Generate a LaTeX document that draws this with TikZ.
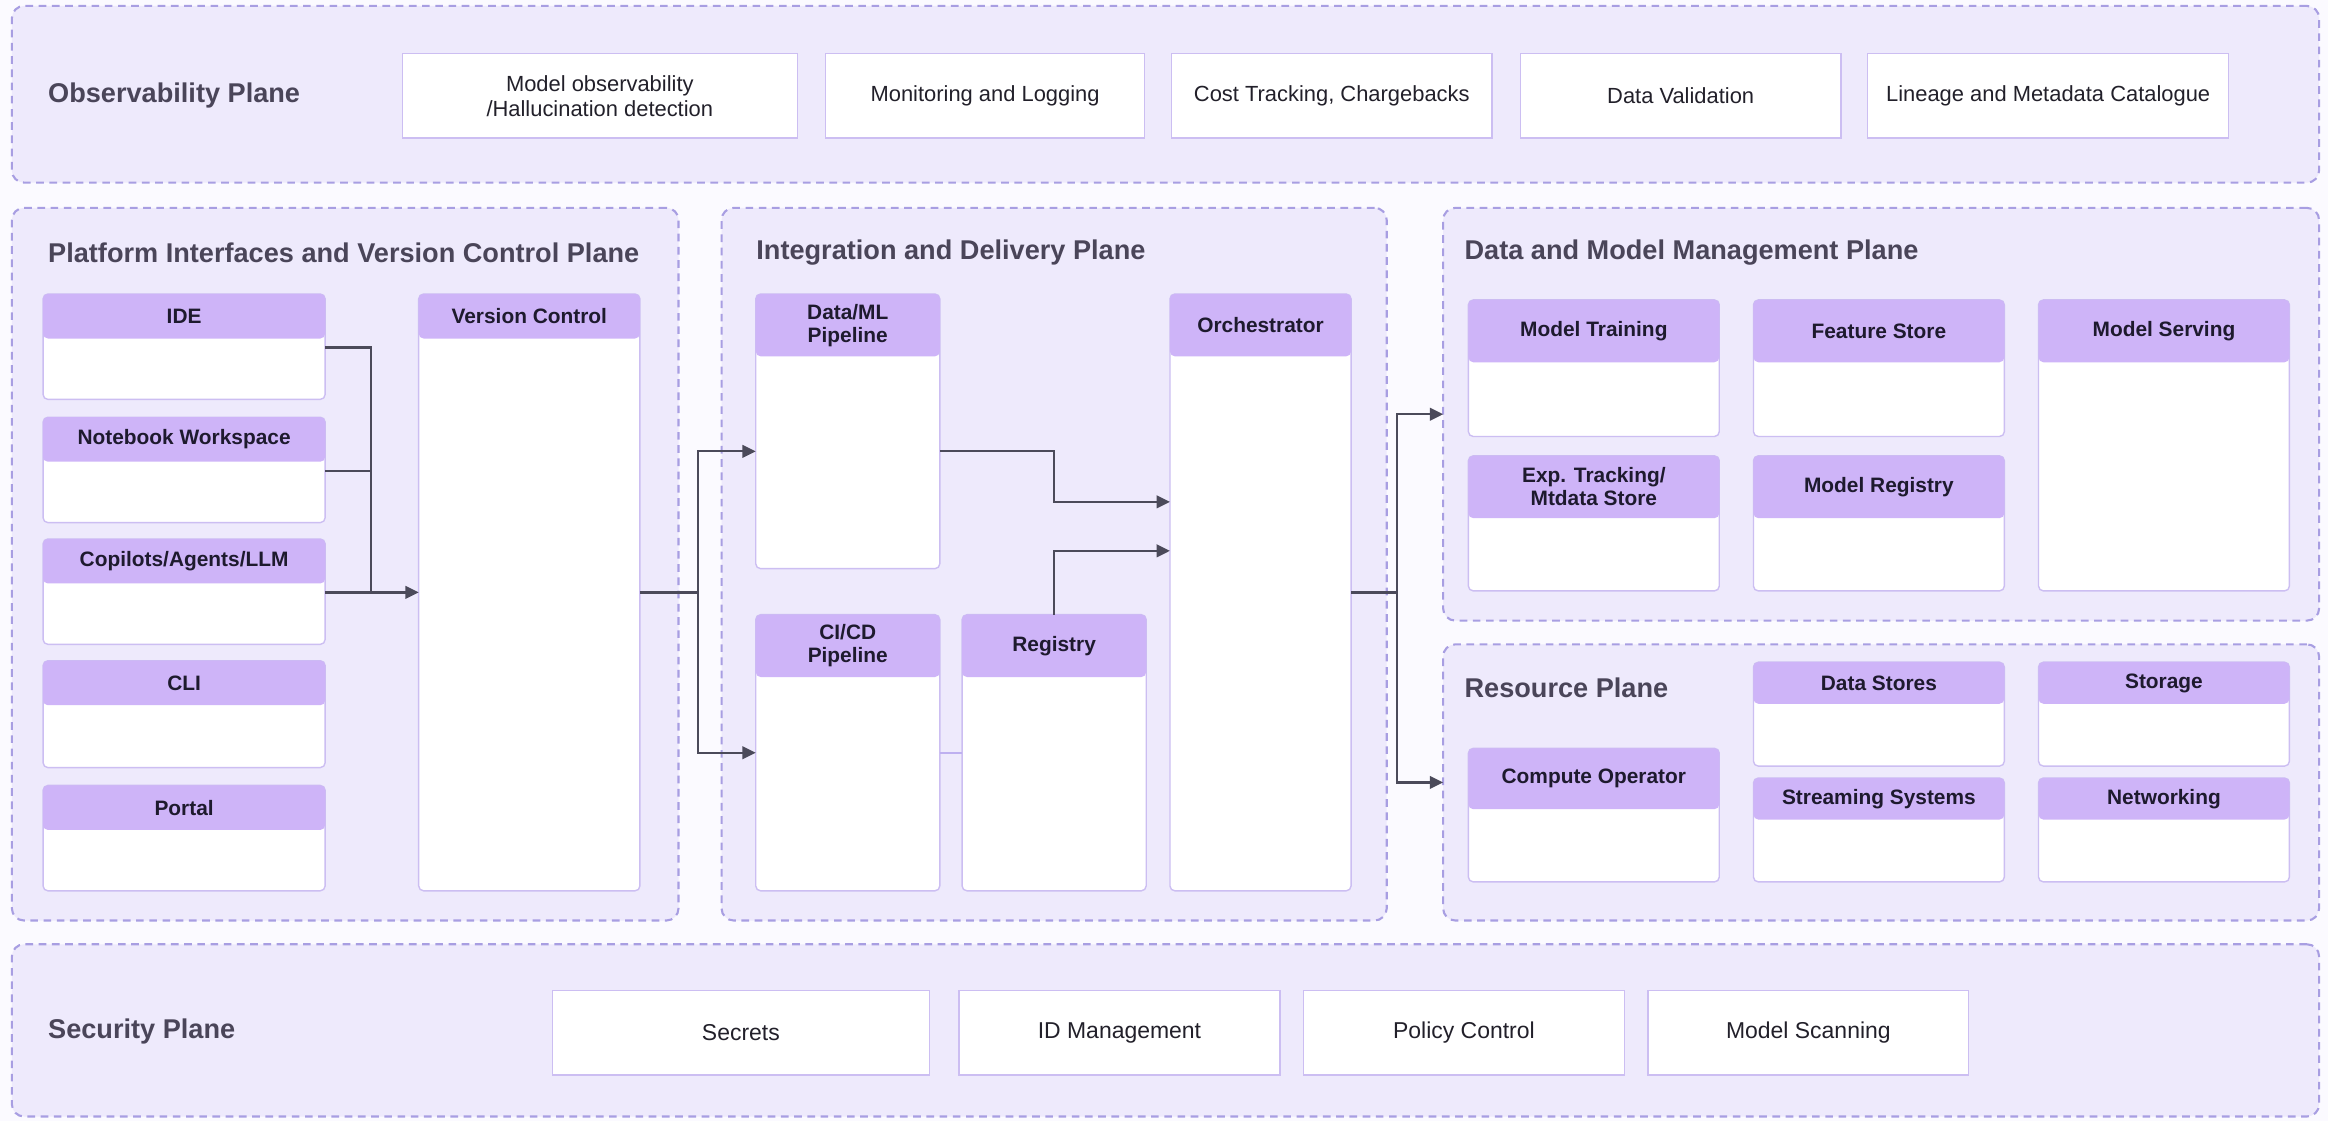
\documentclass[tikz,border=0pt]{standalone}
\usepackage{fontspec}
\setmainfont{Liberation Sans}
\usetikzlibrary{fit,calc,arrows.meta}
\definecolor{pagebg}{RGB}{251,250,255}
\definecolor{planebg}{RGB}{238,234,252}
\definecolor{dashc}{RGB}{168,158,226}
\definecolor{cardb}{RGB}{204,190,242}
\definecolor{headc}{RGB}{206,180,248}
\definecolor{plabel}{RGB}{74,69,89}
\definecolor{htext}{RGB}{30,26,46}
\definecolor{btext}{RGB}{34,32,42}
\definecolor{connc}{RGB}{75,74,90}
\definecolor{faintc}{RGB}{190,176,240}
% \mybox{style}{name}{x1}{x2}{y1}{y2}{text}
\newcommand{\mybox}[7]{%
  \node[#1, minimum width={(#4-#3)*0.015cm}, minimum height={(#6-#5)*0.015cm}]
    (#2) at ({(#3+#4)/2},{(#5+#6)/2}) {#7};
}
% \mycard{name}{x1}{x2}{ytop}{yhead}{ybot}{text}
\newcommand{\mycard}[7]{%
  \mybox{cardbody}{#1}{#2}{#3}{#4}{#6}{}
  \mybox{cardhead}{#1-h}{#2}{#3}{#4}{#5}{#7}
}
\begin{document}
\begin{tikzpicture}[x=0.015cm,y=-0.015cm,
  plane/.style={draw=dashc, line width=0.6pt, dash pattern=on 2.2pt off 1.6pt, fill=planebg, rounded corners=3.5pt, inner sep=0pt, outer sep=0pt},
  planelabel/.style={anchor=west, inner sep=0pt, text=plabel, font=\fontsize{7.8}{9}\selectfont\bfseries},
  cardbody/.style={draw=cardb, line width=0.4pt, fill=white, rounded corners=1.4pt, inner sep=0pt, outer sep=0pt},
  cardhead/.style={fill=headc, rounded corners=1.4pt, inner sep=0pt, outer sep=0pt, align=center, text=htext, font=\fontsize{6}{6.6}\selectfont\bfseries},
  obox/.style={draw=cardb, line width=0.4pt, fill=white, inner sep=0pt, outer sep=0pt, align=center, text=btext, font=\fontsize{6.3}{7.2}\selectfont},
  sbox/.style={obox, font=\fontsize{6.6}{7.6}\selectfont},
  conn/.style={draw=connc, line width=0.65pt},
  arr/.style={conn, -{Triangle[length=3.8pt,width=3.6pt]}},
  faint/.style={draw=faintc, line width=0.5pt}]
\useasboundingbox[fill=pagebg] (0,0) rectangle (1568,755);

% planes
\mybox{plane}{obs}{8}{1562}{4}{123}{}
\mybox{plane}{pi}{8}{457}{140}{620}{}
\mybox{plane}{int}{486}{934}{140}{620}{}
\mybox{plane}{dm}{972}{1562}{140}{418}{}
\mybox{plane}{res}{972}{1562}{434}{620}{}
\mybox{plane}{sec}{8}{1562}{636}{752}{}

\node[planelabel] (obs-l) at (32,64) {Observability Plane};
\node[planelabel] (pi-l) at (32,170) {Platform Interfaces and Version Control Plane};
\node[planelabel] (int-l) at (509,170) {Integration and Delivery Plane};
\node[planelabel] (dm-l) at (986,170) {Data and Model Management Plane};
\node[planelabel] (res-l) at (986,463) {Resource Plane};
\node[planelabel] (sec-l) at (32,695) {Security Plane};

% observability boxes
\mybox{obox}{mobs}{271}{537}{36}{93}{Model observability\\/Hallucination detection}
\mybox{obox}{mon}{556}{771}{36}{93}{Monitoring and Logging}
\mybox{obox}{cost}{789}{1005}{36}{93}{Cost Tracking, Chargebacks}
\mybox{obox}{dval}{1024}{1240}{36}{93}{Data Validation}
\mybox{obox}{lin}{1258}{1501}{36}{93}{Lineage and Metadata Catalogue}

% security boxes
\mybox{sbox}{secr}{372}{626}{667}{724}{Secrets}
\mybox{sbox}{idm}{646}{862}{667}{724}{ID Management}
\mybox{sbox}{pol}{878}{1094}{667}{724}{Policy Control}
\mybox{sbox}{scan}{1110}{1326}{667}{724}{Model Scanning}

% platform interfaces
\mycard{ide}{29}{219}{198}{228}{269}{IDE}
\mycard{nb}{29}{219}{281}{311}{352}{Notebook Workspace}
\mycard{cop}{29}{219}{363}{393}{434}{Copilots/Agents/LLM}
\mycard{cli}{29}{219}{445}{475}{517}{CLI}
\mycard{portal}{29}{219}{529}{559}{600}{Portal}
\mycard{vc}{282}{431}{198}{228}{600}{Version Control}

% integration and delivery
\mycard{dml}{509}{633}{198}{240}{383}{Data/ML\\Pipeline}
\mycard{cicd}{509}{633}{414}{456}{600}{CI/CD\\Pipeline}
\mycard{reg}{648}{772}{414}{456}{600}{Registry}
\mycard{orch}{788}{910}{198}{240}{600}{Orchestrator}

% data and model management
\mycard{mt}{989}{1158}{202}{244}{294}{Model Training}
\mycard{fs}{1181}{1350}{202}{244}{294}{Feature Store}
\mycard{ms}{1373}{1542}{202}{244}{398}{Model Serving}
\mycard{exp}{989}{1158}{307}{349}{398}{Exp. Tracking/\\Mtdata Store}
\mycard{mr}{1181}{1350}{307}{349}{398}{Model Registry}

% resource
\mycard{ds}{1181}{1350}{446}{474}{516}{Data Stores}
\mycard{sto}{1373}{1542}{446}{474}{516}{Storage}
\mycard{co}{989}{1158}{504}{545}{594}{Compute Operator}
\mycard{ss}{1181}{1350}{524}{552}{594}{Streaming Systems}
\mycard{net}{1373}{1542}{524}{552}{594}{Networking}

% connectors
\coordinate (j1) at (250,399);
\draw[conn] ($(ide-h.south east)+(0,6)$) -| (j1);
\draw[conn] ($(nb-h.south east)+(0,6)$) -| (j1);
\draw[arr] ($(cop-h.south east)+(0,6)$) -- (vc.west |- j1);

\coordinate (j2) at (470,399);
\coordinate (d1) at (633,304);
\draw[conn] (vc.east) -- (j2);
\draw[arr] (j2) |- (dml.west |- d1);
\draw[arr] (j2) |- (cicd.west);

\coordinate (o1) at (788,338);
\coordinate (o2) at (788,371);
\draw[arr] (d1) -| (reg.north |- o1) -- (o1);
\draw[arr] (reg.north) |- (o2);
\draw[faint] (cicd.east) -- (reg.west |- cicd.east);

\coordinate (j3) at (941,399);
\draw[conn] (orch.east) -- (j3);
\draw[arr] (j3) |- (dm.west);
\draw[arr] (j3) |- (res.west);
\end{tikzpicture}
\end{document}
